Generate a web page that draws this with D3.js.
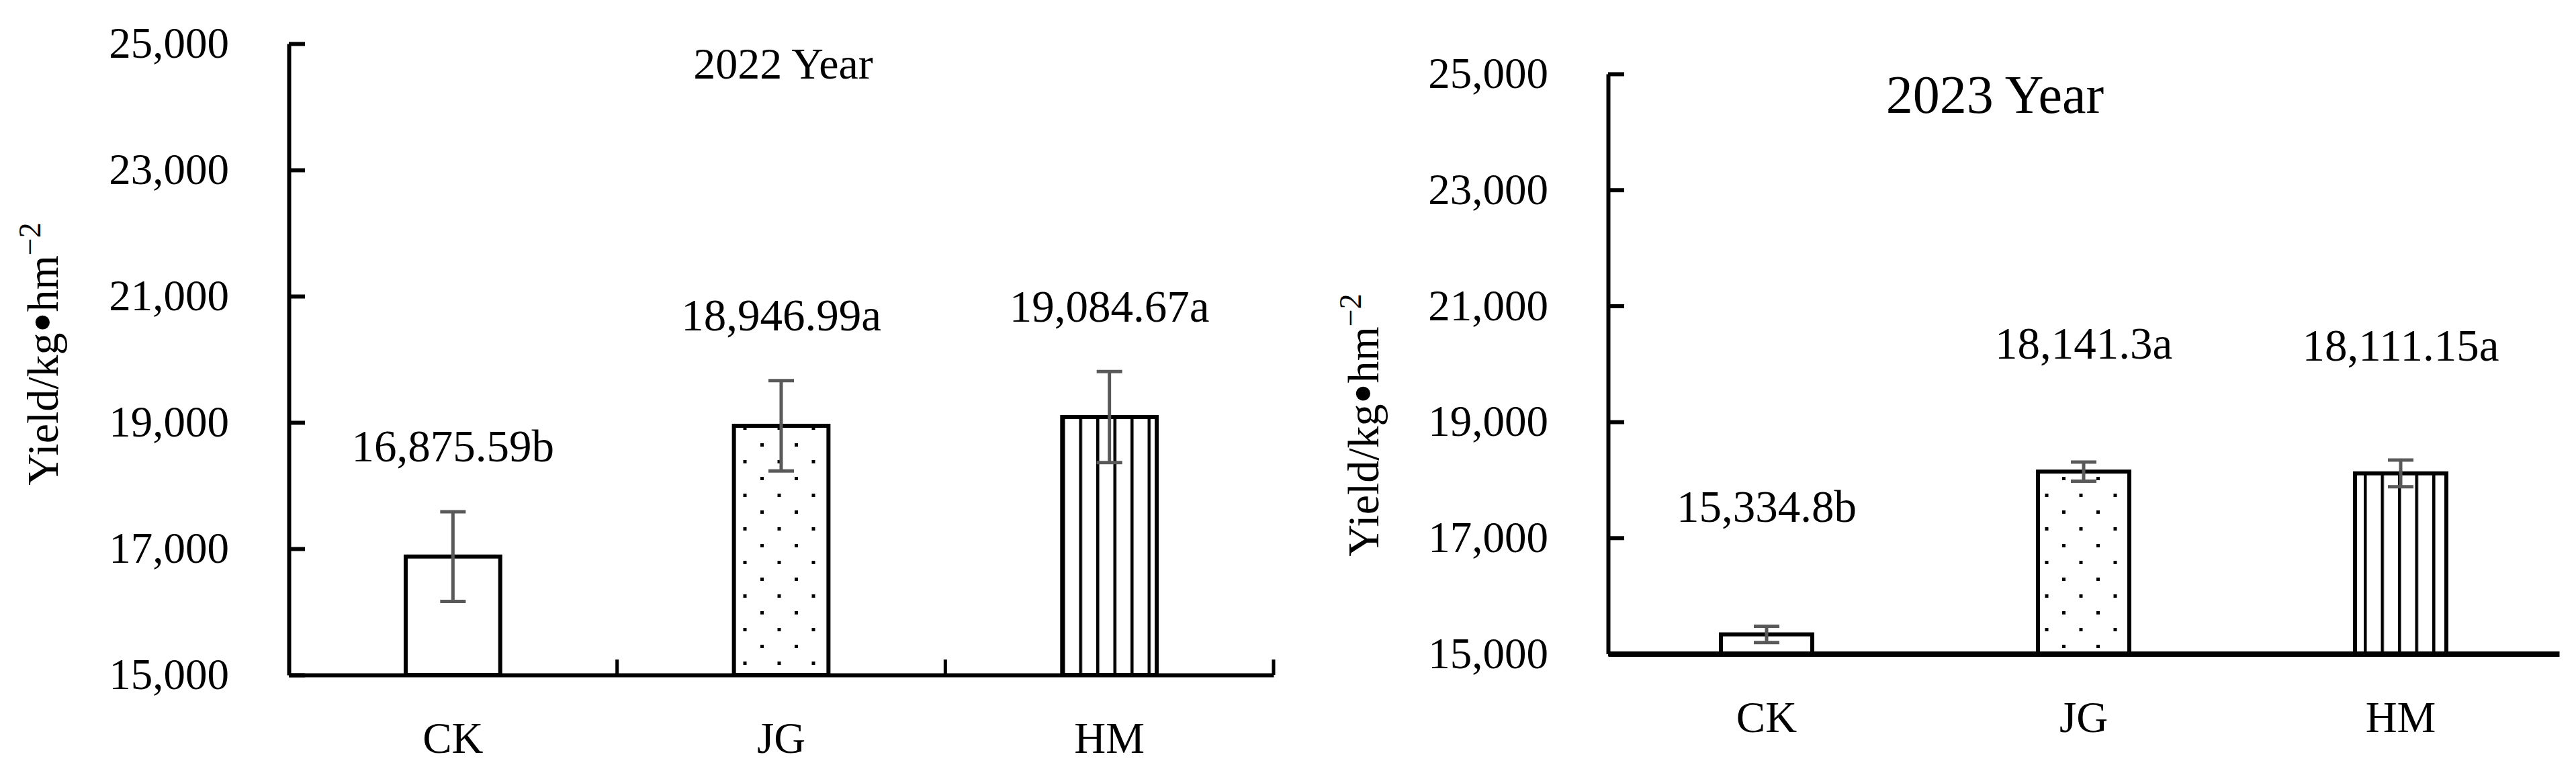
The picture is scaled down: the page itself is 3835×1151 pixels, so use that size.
<!DOCTYPE html>
<html>
<head>
<meta charset="utf-8">
<script src="https://cdn.jsdelivr.net/npm/d3@7"></script>
<style>
  body { margin: 0; background: #fff; }
  svg { display: block; }
  text { font-family: "Liberation Serif", "Times New Roman", serif; fill: #000; }
</style>
</head>
<body>
<div id="chart"></div>
<script>
/* données */
const categories = ['CK', 'JG', 'HM'];
const yield2022 = [16875.59, 18946.99, 19084.67];
const err2022 = [710, 715, 720];
const letters2022 = ['b', 'a', 'a'];
const yield2023 = [15334.8, 18141.3, 18111.15];
const err2023 = [140, 165, 230];
const letters2023 = ['b', 'a', 'a'];
const yTicks = [15000, 17000, 19000, 21000, 23000, 25000];
const fills = ['#fff', 'url(#dots)', 'url(#vlines)'];

let width = 3835,
    height = 1151;

let svg = d3.select('#chart').append('svg')
  .attr('width', width)
  .attr('height', height);

svg.append('rect').attr('width', width).attr('height', height).attr('fill', '#fff');

/* motifs des barres */
let defs = svg.append('defs');
let dots = defs.append('pattern')
  .attr('id', 'dots')
  .attr('patternUnits', 'userSpaceOnUse')
  .attr('width', 51).attr('height', 50);
dots.append('rect').attr('width', 51).attr('height', 50).attr('fill', '#fff');
dots.append('rect').attr('x', 10).attr('y', 10).attr('width', 5).attr('height', 5).attr('fill', '#000');
dots.append('rect').attr('x', 35.5).attr('y', 35).attr('width', 5).attr('height', 5).attr('fill', '#000');

let vlines = defs.append('pattern')
  .attr('id', 'vlines')
  .attr('patternUnits', 'userSpaceOnUse')
  .attr('width', 25.5).attr('height', 20);
vlines.append('rect').attr('width', 25.5).attr('height', 20).attr('fill', '#fff');
vlines.append('rect').attr('x', 0).attr('y', 0).attr('width', 4.5).attr('height', 20).attr('fill', '#000');

const fmt = d3.format(',');

function drawPanel(p) {
  let x = d3.scaleBand()
    .domain(categories)
    .range([p.left, p.right])
    .paddingInner(0.712)
    .paddingOuter(0.356);

  let y = d3.scaleLinear()
    .domain([15000, 25000])
    .range([p.bottom, p.top]);

  let g = svg.append('g');

  /* barres */
  g.selectAll('rect.bar')
    .data(p.values)
    .enter()
    .append('rect')
    .attr('class', 'bar')
    .attr('x', (d, i) => x(categories[i]))
    .attr('y', d => y(d))
    .attr('width', x.bandwidth())
    .attr('height', d => y(15000) - y(d))
    .attr('fill', (d, i) => fills[i])
    .attr('stroke', '#000')
    .attr('stroke-width', 6);

  /* barres d'erreur */
  let eb = g.selectAll('g.err')
    .data(p.values)
    .enter()
    .append('g')
    .attr('class', 'err')
    .attr('stroke', '#595959')
    .attr('stroke-width', 5);
  eb.append('line')
    .attr('x1', (d, i) => x(categories[i]) + x.bandwidth() / 2)
    .attr('x2', (d, i) => x(categories[i]) + x.bandwidth() / 2)
    .attr('y1', (d, i) => y(d + p.errors[i]))
    .attr('y2', (d, i) => y(d - p.errors[i]));
  [1, -1].forEach(s => {
    eb.append('line')
      .attr('x1', (d, i) => x(categories[i]) + x.bandwidth() / 2 - 19)
      .attr('x2', (d, i) => x(categories[i]) + x.bandwidth() / 2 + 19)
      .attr('y1', (d, i) => y(d + s * p.errors[i]))
      .attr('y2', (d, i) => y(d + s * p.errors[i]));
  });

  /* étiquettes de valeur */
  g.selectAll('text.val')
    .data(p.values)
    .enter()
    .append('text')
    .attr('class', 'val')
    .attr('x', (d, i) => x(categories[i]) + x.bandwidth() / 2)
    .attr('y', d => y(d) - p.labelOffset)
    .attr('text-anchor', 'middle')
    .style('font-size', '67px')
    .text((d, i) => fmt(d) + p.letters[i]);

  /* axe Y */
  let yAxis = d3.axisLeft(y)
    .tickValues(yTicks)
    .tickFormat(fmt)
    .tickSizeInner(-24)
    .tickSizeOuter(0)
    .tickPadding(89);
  let ya = g.append('g')
    .attr('transform', 'translate(' + p.left + ',0)')
    .call(yAxis);
  ya.select('.domain').attr('stroke', '#000').attr('stroke-width', 6);
  ya.selectAll('.tick line').attr('stroke', '#000').attr('stroke-width', 6);
  ya.selectAll('.tick text')
    .style('font-size', '65px')
    .style('font-family', '"Liberation Serif", serif')
    .attr('fill', '#000');

  /* axe X */
  let xAxis = d3.axisBottom(x)
    .tickSize(0)
    .tickPadding(70);
  let xa = g.append('g')
    .attr('transform', 'translate(0,' + p.bottom + ')')
    .call(xAxis);
  xa.select('.domain').attr('stroke', '#000').attr('stroke-width', p.xStroke);
  xa.selectAll('.tick text')
    .style('font-size', '65px')
    .style('font-family', '"Liberation Serif", serif')
    .attr('fill', '#000');

  if (p.xTicks) {
    g.selectAll('line.sep')
      .data(categories)
      .enter()
      .append('line')
      .attr('class', 'sep')
      .attr('x1', (d, i) => p.left + x.step() * (i + 1))
      .attr('x2', (d, i) => p.left + x.step() * (i + 1))
      .attr('y1', p.bottom)
      .attr('y2', p.bottom - 23)
      .attr('stroke', '#000')
      .attr('stroke-width', 5);
  }

  /* titre */
  g.append('text')
    .attr('x', p.titleX)
    .attr('y', p.titleY)
    .attr('text-anchor', 'middle')
    .style('font-size', p.titleSize + 'px')
    .text(p.title);

  /* titre axe ordonnées */
  let yt = g.append('text')
    .attr('transform', 'translate(' + p.yTitleX + ',' + p.yTitleY + ') rotate(-90)')
    .attr('text-anchor', 'middle')
    .style('font-size', '66px');
  yt.append('tspan').text('Yield/kg');
  yt.append('tspan')
    .attr('dy', 7)
    .style('font-size', '88px')
    .text('\u2022');
  yt.append('tspan')
    .attr('dy', -7)
    .text('hm');
  yt.append('tspan')
    .attr('dy', -26)
    .style('font-size', '46px')
    .text('\u22122');
}

drawPanel({
  values: yield2022, errors: err2022, letters: letters2022,
  left: 430, right: 1896, top: 65, bottom: 1005,
  xStroke: 6, xTicks: true, labelOffset: 142,
  title: '2022 Year', titleX: 1166, titleY: 117, titleSize: 66,
  yTitleX: 86, yTitleY: 527
});

drawPanel({
  values: yield2023, errors: err2023, letters: letters2023,
  left: 2394, right: 3810, top: 110, bottom: 973.5,
  xStroke: 8, xTicks: false, labelOffset: 168,
  title: '2023 Year', titleX: 2970, titleY: 168, titleSize: 80,
  yTitleX: 2052, yTitleY: 633
});
</script>
</body>
</html>
